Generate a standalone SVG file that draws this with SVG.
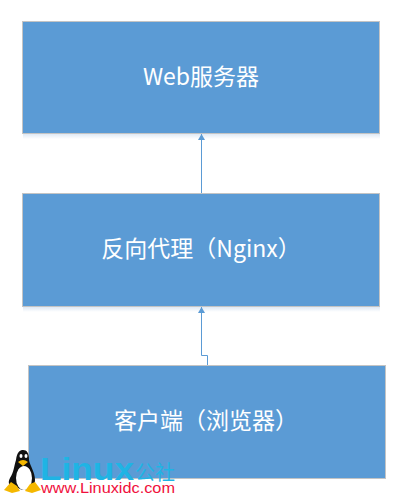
<svg xmlns="http://www.w3.org/2000/svg" width="407" height="498" viewBox="0 0 407 498">
<defs>
<linearGradient id="gl" x1="0" y1="0" x2="0" y2="1"><stop offset="0" stop-color="#dfe9f5"/><stop offset="1" stop-color="#ffffff"/></linearGradient>
</defs>
<style>
.box{fill:#5b9bd5;stroke:#c4c4c4;stroke-width:1}
.lbl{font-family:"Noto Sans CJK SC","Noto Sans",sans-serif;font-size:23px;fill:#ffffff;text-anchor:middle}
.con{fill:none;stroke:#5b9bd5;stroke-width:1}
</style>
<rect width="407" height="498" fill="#ffffff"/>
<rect x="23" y="134" width="357" height="5" fill="url(#gl)"/>
<rect x="23" y="307" width="357" height="5" fill="url(#gl)"/>
<g id="web"><rect class="box" x="22.500" y="21.500" width="357" height="112"/><text class="lbl" x="201" y="85">Web服务器</text></g>
<g id="proxy"><rect class="box" x="22.500" y="193.500" width="357" height="113"/><text class="lbl" x="201" y="257">反向代理（Nginx）</text></g>
<g id="client"><rect class="box" x="28.500" y="365.500" width="357" height="113"/><text class="lbl" x="206" y="429">客户端（浏览器）</text></g>
<g id="connectors">
<path class="con" d="M201.500 193V134"/>
<path d="M201.500 134L198 140H205Z" fill="#5b9bd5"/>
<path class="con" d="M207.500 365V355.500H201.500V307"/>
<path d="M201.500 307L198 313H205Z" fill="#5b9bd5"/>
</g>
<g id="watermark">
<path d="M14 486C10 486 7 484 10 478C14 472 14 466 16 460C17 452 20 450 23 450C27 450 29 453 29 460C30 466 35 472 35 480C35 486 30 490 22 490Z" fill="#111111"/>
<ellipse cx="24" cy="478" rx="8" ry="12" fill="#ffffff"/>
<ellipse cx="21" cy="456" rx="1.500" ry="2" fill="#ffffff"/>
<ellipse cx="26" cy="456" rx="1.500" ry="2" fill="#ffffff"/>
<path d="M18 462Q23 458 28 462L23 466Z" fill="#f5b800"/>
<path d="M4 490L11 482L17 486L20 491L12 493Z" fill="#f5b800"/>
<path d="M25 491L30 484L35 482L41 490L32 493Z" fill="#f5b800"/>
<text x="40" y="480" font-family="'Liberation Sans',sans-serif" font-weight="700" font-size="32" textLength="94" lengthAdjust="spacingAndGlyphs" fill="#1fb4e4">Linux</text>
<text x="135" y="480" font-family="'Noto Sans CJK SC',sans-serif" font-size="20" fill="#1fb4e4">公社</text>
<text x="41" y="493" font-family="'Liberation Sans',sans-serif" font-size="14.500" textLength="134" lengthAdjust="spacingAndGlyphs" fill="#f0103c">www.Linuxidc.com</text>
</g>
</svg>
